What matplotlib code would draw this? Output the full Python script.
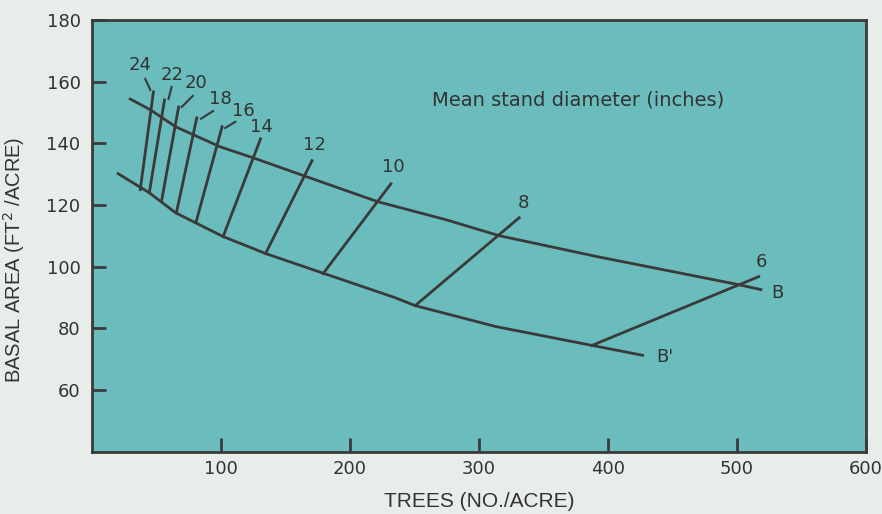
import matplotlib.pyplot as plt

plt.rcParams["font.family"] = ["DejaVu Sans"]

# upper boundary B (trees/acre, basal area)
b_trees = [29.8, 45.4, 65.0, 99.5, 125.3, 164.4, 221.6, 274.1, 315.5, 391.5, 501.2, 518.4]
b_basal = [154.4, 150.9, 145.4, 138.9, 135.3, 129.5, 121.1, 115.3, 110.1, 103.3, 94.2, 92.6]

# lower boundary B'
bp_trees = [20.4, 44.6, 65.0, 101.8, 134.7, 180.1, 234.9, 250.6, 313.2, 387.6, 426.8]
bp_basal = [130.2, 124.0, 117.5, 109.8, 104.3, 97.8, 90.0, 87.4, 80.6, 74.5, 71.3]

# mean stand diameter lines: bottom point, top point
diameters = [24, 22, 20, 18, 16, 14, 12, 10, 8, 6]
d_bottom_x = [37.6, 44.6, 54.0, 65.8, 80.7, 101.8, 134.7, 179.3, 250.6, 387.6]
d_bottom_y = [125.0, 124.0, 121.1, 117.9, 114.3, 109.8, 104.3, 97.8, 87.4, 74.5]
d_top_x = [47.8, 56.4, 67.3, 81.4, 101.0, 130.8, 170.7, 231.8, 331.2, 516.8]
d_top_y = [156.7, 154.1, 151.8, 148.3, 145.4, 141.5, 134.4, 126.9, 115.9, 96.8]
label_x = [37.6, 62.6, 80.7, 99.5, 117.5, 131.6, 172.3, 233.4, 334.4, 519.2]
label_y = [165.4, 162.2, 159.6, 154.4, 150.5, 145.4, 139.5, 132.4, 120.8, 101.4]

# short leader ticks between the crowded labels and their lines
leader_x0 = [41.5, 61.9, 78.3, 94.0, 111.2]
leader_y0 = [160.9, 158.3, 155.4, 150.5, 147.0]
leader_x1 = [45.4, 59.5, 69.7, 84.6, 103.4]
leader_y1 = [157.3, 154.4, 151.8, 148.0, 145.0]

line_col = "#3a3a3a"
text_col = "#333333"

fig = plt.figure(figsize=(8.82, 5.14), dpi=100, facecolor="#e8ede9")
ax = fig.add_axes([0.104, 0.121, 0.878, 0.840])
ax.set_facecolor("#6bbcbc")

ax.plot(b_trees, b_basal, color=line_col, lw=2)
ax.plot(bp_trees, bp_basal, color=line_col, lw=2)
for i in range(len(diameters)):
    ax.plot([d_bottom_x[i], d_top_x[i]], [d_bottom_y[i], d_top_y[i]], color=line_col, lw=2)
    ax.text(label_x[i], label_y[i], str(diameters[i]), ha="center", va="center",
            fontsize=13, color=text_col)
for i in range(len(leader_x0)):
    ax.plot([leader_x0[i], leader_x1[i]], [leader_y0[i], leader_y1[i]], color=line_col, lw=1.5)

ax.text(531, 91.6, "B", ha="center", va="center", fontsize=13, color=text_col)
ax.text(444, 70.9, "B'", ha="center", va="center", fontsize=13, color=text_col)
ax.text(264, 154, "Mean stand diameter (inches)", ha="left", va="center",
        fontsize=14, color=text_col)

ax.set_xlim(0, 600)
ax.set_ylim(40, 180)
ax.set_xticks([100, 200, 300, 400, 500, 600])
ax.set_yticks([60, 80, 100, 120, 140, 160, 180])
ax.tick_params(axis="both", direction="in", length=10, width=2, color=line_col,
               labelsize=13, labelcolor=text_col)
ax.tick_params(axis="x", pad=6)
ax.tick_params(axis="y", pad=8)
for s in ax.spines.values():
    s.set_color(line_col)
    s.set_linewidth(2)

ax.set_xlabel("TREES (NO./ACRE)", fontsize=15, color=text_col, labelpad=10,
              family="Liberation Sans")
ax.set_ylabel("BASAL AREA (FT$^2$ /ACRE)", fontsize=14.5, color=text_col,
              family="Liberation Sans")
ax.yaxis.set_label_coords(-0.083, 0.445)

fig.savefig("out.png", dpi=100, facecolor=fig.get_facecolor())
